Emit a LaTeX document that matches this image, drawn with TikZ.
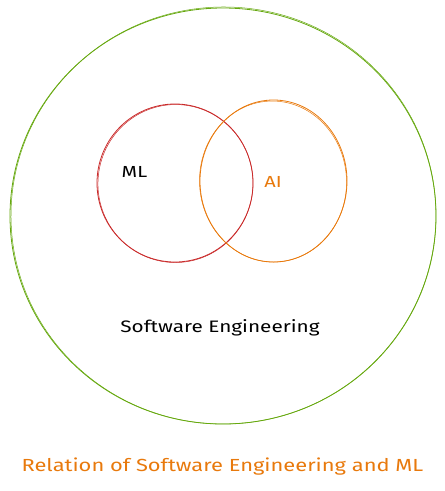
\documentclass[tikz,border=0pt]{standalone}
\usepackage{fontspec}
\setmainfont{Fira Sans}
\newfontfamily\handfont[FakeStretch=1.25]{Fira Sans}
\definecolor{sgreen}{HTML}{66A80F}
\definecolor{sred}{HTML}{C92A2A}
\definecolor{sorange}{HTML}{E8790C}
\begin{document}
\begin{tikzpicture}[x=1pt,y=-1pt,
  sketch/.style={line width=0.8pt},
  sketchb/.style={line width=0.5pt},
  lbl/.style={inner sep=0pt, font=\handfont\fontsize{16}{19}\selectfont}]
\useasboundingbox (0,0) rectangle (445,491);
% outer circle
\draw[sketch, sgreen] (223,216) ellipse [x radius=213, y radius=208];
\draw[sketchb, sgreen, rotate around={2:(223,216)}] (223.5,215.5) ellipse [x radius=212.5, y radius=208.5];
% ML circle
\draw[sketch, sred] (175,183) ellipse [x radius=78, y radius=79];
\draw[sketchb, sred, rotate around={-4:(175,183)}] (175.5,183.5) ellipse [x radius=77.5, y radius=79];
% AI circle
\draw[sketch, sorange] (273.5,181) ellipse [x radius=73.5, y radius=81];
\draw[sketchb, sorange, rotate around={3:(273.5,181)}] (273,181.5) ellipse [x radius=73.5, y radius=80.5];
% labels
\node[lbl] (ml) at (134.5,172) {ML};
\node[lbl, text=sorange] (ai) at (273,182) {AI};
\node[lbl, font=\handfont\fontsize{16.6}{20}\selectfont] (set) at (220,328) {Software Engineering};
\node[lbl, text=sorange, font=\handfont\fontsize{17.5}{21}\selectfont] (cap) at (222.5,467) {Relation of Software Engineering and ML};
\end{tikzpicture}
\end{document}
